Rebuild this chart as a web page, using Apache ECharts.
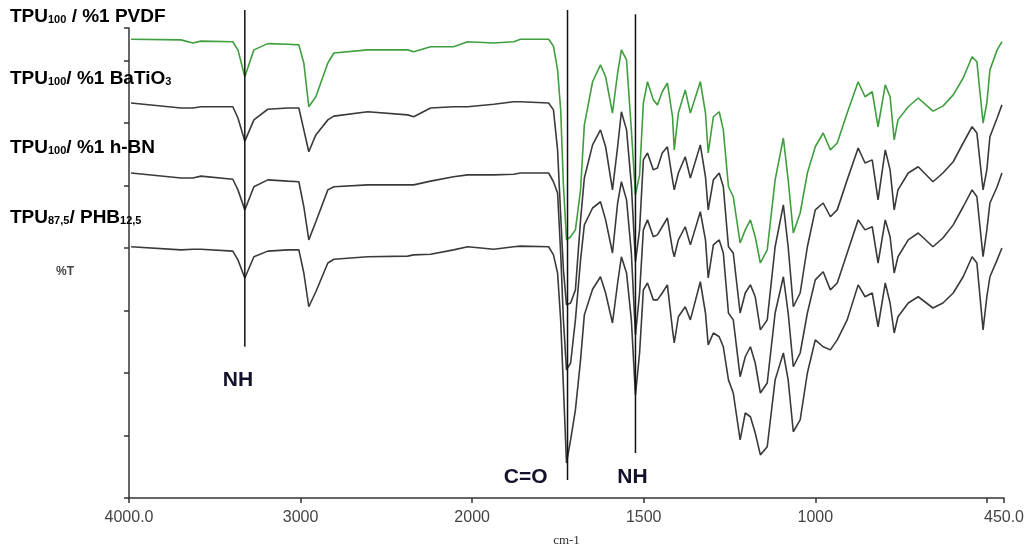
<!DOCTYPE html>
<html>
<head>
<meta charset="utf-8">
<script src="https://cdn.jsdelivr.net/npm/echarts@6/dist/echarts.min.js"></script>
<style>html,body{margin:0;padding:0;background:#fff;}#chart{width:1030px;height:557px;}</style>
</head>
<body>
<div id="chart"></div>
<script>
// wavenumbers (cm-1) shared by all traces
const wavenumbers = [3988,3697,3627,3581,3395,3365,3325,3272,3191,3074,
  3010,2981,2952,2911,2841,2806,2609,2376,2341,2242,
  2108,2026,1937,1879,1859,1777,1763,1751,1742,1734,
  1725,1713,1699,1684,1673,1649,1626,1611,1591,1576,
  1565,1550,1536,1524,1512,1501,1489,1472,1460,1446,
  1431,1416,1411,1399,1379,1364,1335,1320,1312,1297,
  1280,1268,1253,1239,1219,1204,1189,1175,1160,1140,
  1117,1093,1079,1064,1044,1023,1000,977,956,936,
  907,875,855,834,817,796,782,770,759,729,
  700,657,628,598,569,543,529,511,500,491,
  470,456];

// %T (stacked, arbitrary offset)
const pvdf = [73.4,73.3,72.8,73.1,73.0,71.7,67.4,71.7,72.7,72.6,
  72.5,69.6,62.6,64.2,69.6,71.2,71.7,71.7,71.4,72.2,
  72.2,73.0,72.8,73.0,73.4,73.4,72.3,68.5,62.1,50.1,
  41.3,41.8,42.9,49.3,59.7,66.6,69.3,67.4,61.6,68.0,
  71.7,70.1,58.9,48.5,51.7,63.2,66.6,63.7,62.9,65.0,
  66.4,61.0,55.7,61.6,65.3,61.6,66.6,61.6,55.2,61.0,
  61.8,58.9,49.8,48.2,40.8,42.9,44.5,41.8,37.6,39.7,
  50.9,57.6,50.9,42.4,45.6,52.0,56.2,58.4,55.7,56.8,
  61.6,66.6,64.2,65.0,59.4,66.1,64.2,57.3,60.5,62.6,
  64.0,61.9,62.7,64.5,67.2,70.6,69.8,60.0,63.2,68.5,
  71.7,73.0];
const batio3 = [63.2,62.4,62.4,62.6,62.6,60.8,57.1,60.5,62.2,62.4,
  62.4,58.9,55.4,58.1,60.5,61.1,61.8,61.3,61.0,62.4,
  62.6,62.6,63.0,63.4,63.4,63.2,62.1,55.7,45.3,36.5,
  30.9,31.2,33.3,44.5,51.2,56.5,58.9,56.2,49.3,56.2,
  61.8,58.9,50.1,37.8,42.9,54.1,55.2,52.5,52.8,55.2,
  56.2,50.9,49.3,52.0,54.6,51.2,56.5,51.4,46.1,50.9,
  52.0,49.8,40.2,39.2,29.6,32.8,34.1,32.2,26.9,28.5,
  40.2,46.9,40.2,30.6,32.8,40.2,46.1,47.2,45.0,46.1,
  50.9,56.0,53.6,54.1,47.7,55.7,52.5,46.1,49.3,52.0,
  53.0,50.6,52.0,53.8,56.8,59.4,58.4,49.3,52.5,57.8,
  60.8,62.9];
const hbn = [52.0,51.2,51.2,51.5,51.0,49.3,46.1,49.8,50.9,50.7,
  50.6,46.6,41.3,44.2,49.3,49.8,50.1,50.1,50.1,50.7,
  51.4,51.7,51.7,51.8,52.0,52.0,50.6,48.8,39.2,28.5,
  20.5,21.6,28.5,38.1,43.7,46.4,47.4,44.5,39.2,47.2,
  50.6,47.7,39.2,26.1,32.8,42.9,44.5,41.8,42.1,43.4,
  44.8,39.7,38.6,41.3,43.4,40.5,45.8,41.3,35.2,40.5,
  41.3,39.2,29.6,28.5,19.4,22.6,24.2,21.6,16.8,18.4,
  29.6,35.4,29.6,21.0,23.2,29.6,34.9,36.2,33.3,34.4,
  39.2,44.5,42.9,43.4,37.6,44.5,41.8,36.0,38.6,41.3,
  42.4,40.2,41.6,43.7,46.6,49.3,48.2,38.6,42.9,47.2,
  49.8,52.0];
const phb = [40.2,39.7,39.8,39.8,39.5,38.1,35.2,38.6,39.5,39.7,
  39.7,36.0,30.6,33.0,37.6,38.2,38.6,38.7,38.9,39.0,
  39.7,40.2,39.8,40.2,40.3,40.2,38.9,36.0,28.5,17.8,
  5.6,9.3,14.1,22.1,29.3,33.4,35.4,32.8,28.0,34.4,
  38.6,36.0,28.5,16.5,23.2,33.3,34.4,31.7,31.7,32.8,
  34.1,26.9,24.8,29.0,30.6,28.5,34.6,29.6,24.5,26.4,
  25.8,24.2,18.9,16.8,9.3,13.6,13.0,10.4,6.9,8.2,
  18.9,23.2,18.9,10.6,12.5,20.0,25.3,24.2,23.7,25.3,
  28.5,34.1,32.2,32.8,27.4,34.4,31.2,26.4,29.0,31.2,
  32.2,30.4,31.2,32.8,35.4,38.6,37.6,26.9,32.2,35.4,
  38.1,40.0];

// axis ticks / labels (wavenumbers)
const tickWavenumbers = [4000, 3000, 2000, 1500, 1000, 500, 450];
const labelWavenumbers = [4000, 3000, 2000, 1500, 1000, 450];
const labelTexts = ['4000.0', '3000', '2000', '1500', '1000', '450.0'];

// band marker lines
const markerWavenumbers = [3325, 1722, 1524];
const markerTop = [78.1, 78.1, 77.4];
const markerBottom = [24.2, 2.9, 7.2];

// band annotations
const annotTexts = ['NH', 'C=O', 'NH'];
const annotWavenumbers = [3365, 1844, 1533];
const annotLevels = [18.9, 3.4, 3.4];

// spectrometer x-axis: scale doubles below 2000 cm-1
function toAxis(w) { return w >= 2000 ? 4000 - w : 2000 + 2 * (2000 - w); }

const chart = echarts.init(document.getElementById('chart'), null, {renderer: 'canvas'});
const pts = arr => wavenumbers.map((w, i) => [toAxis(w), arr[i]]);
const traceStyle = (c) => ({type: 'line', xAxisIndex: 0, yAxisIndex: 0, showSymbol: false, symbol: 'none',
  lineStyle: {color: c, width: 1.6}, z: 3});

const series = [
  Object.assign(traceStyle('#3f9f3f'), {name: 'PVDF', data: pts(pvdf)}),
  Object.assign(traceStyle('#3a3a3a'), {name: 'BaTiO3', data: pts(batio3)}),
  Object.assign(traceStyle('#3a3a3a'), {name: 'hBN', data: pts(hbn)}),
  Object.assign(traceStyle('#3a3a3a'), {name: 'PHB', data: pts(phb)})
];
markerWavenumbers.forEach((w, i) => {
  series.push({type: 'line', xAxisIndex: 1, yAxisIndex: 1, symbol: 'none', z: 4,
    lineStyle: {color: '#111', width: 1.5},
    data: [[toAxis(w), markerBottom[i]], [toAxis(w), markerTop[i]]]});
});
series.push({type: 'scatter', xAxisIndex: 1, yAxisIndex: 1, symbolSize: 0, z: 5,
  itemStyle: {opacity: 1},
  data: annotTexts.map((t, i) => ({value: [toAxis(annotWavenumbers[i]), annotLevels[i]], name: t})),
  label: {show: true, position: 'inside', formatter: p => p.name,
    fontFamily: 'Liberation Sans, Arial', fontWeight: 'bold', fontSize: 21, color: '#12122a', opacity: 1}});

const rich = {
  b: {fontFamily: 'Liberation Sans, Arial', fontWeight: 'bold', fontSize: 19, color: '#222', verticalAlign: 'bottom', lineHeight: 22},
  s: {fontFamily: 'Liberation Sans, Arial', fontWeight: 'bold', fontSize: 11, color: '#222', verticalAlign: 'bottom', lineHeight: 22, padding: [0, 0, 1, 0]}
};
const legendItems = [
  {text: '{b|TPU}{s|100}{b| / %1 PVDF}', y: 15},
  {text: '{b|TPU}{s|100}{b|/ %1 BaTiO}{s|3}', y: 77},
  {text: '{b|TPU}{s|100}{b|/ %1 h-BN}', y: 146},
  {text: '{b|TPU}{s|87,5}{b|/ PHB}{s|12,5}', y: 216}
];
const graphics = legendItems.map(it => ({type: 'text', left: 10, top: it.y - 8, z: 10,
  style: {text: it.text, rich: rich}}));
graphics.push({type: 'text', left: 56, top: 266, z: 10,
  style: {text: '%T', fontFamily: 'Liberation Sans, Arial', fontWeight: 'bold', fontSize: 12, fill: '#444'}});

chart.setOption({
  animation: false,
  backgroundColor: '#fff',
  grid: [
    {left: 129, right: 26, top: 28, bottom: 59},
    {left: 129, right: 26, top: 10, bottom: 59}
  ],
  xAxis: [
    {type: 'value', gridIndex: 0, min: 0, max: 5100,
      axisLine: {show: true, onZero: false, lineStyle: {color: '#333', width: 1.5}},
      axisTick: {show: true, length: 5, customValues: tickWavenumbers.map(toAxis), lineStyle: {color: '#333', width: 1.5}},
      axisLabel: {show: true, margin: 12, customValues: labelWavenumbers.map(toAxis), showMinLabel: true, showMaxLabel: true,
        formatter: v => { const i = labelWavenumbers.map(toAxis).indexOf(v); return i >= 0 ? labelTexts[i] : ''; },
        fontFamily: 'Liberation Sans, Arial', fontSize: 16, color: '#444'},
      splitLine: {show: false},
      name: 'cm-1', nameLocation: 'middle', nameGap: 36,
      nameTextStyle: {fontFamily: 'Liberation Serif, serif', fontSize: 13, color: '#333'}},
    {type: 'value', gridIndex: 1, min: 0, max: 5100, show: false}
  ],
  yAxis: [
    {type: 'value', gridIndex: 0, min: 0, max: 75.2, interval: 10,
      axisLine: {show: true, lineStyle: {color: '#333', width: 1.5}},
      axisTick: {show: true, length: 5, lineStyle: {color: '#333', width: 1.5}},
      axisLabel: {show: false}, splitLine: {show: false}},
    {type: 'value', gridIndex: 1, min: 0, max: 78.08, show: false}
  ],
  graphic: graphics,
  series: series
});
</script>
</body>
</html>
